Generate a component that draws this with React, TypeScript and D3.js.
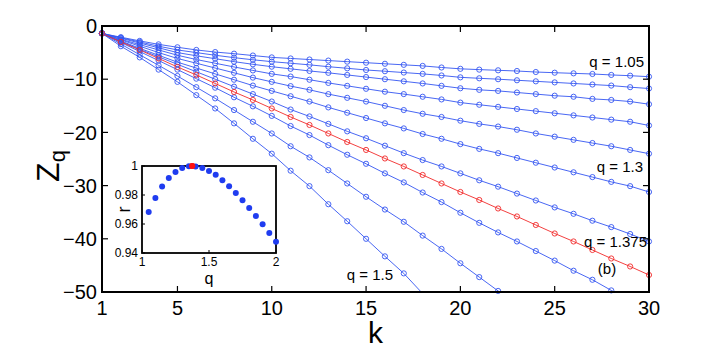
import * as d3 from 'd3'

// k = 1..30, one array of Zq per q (below -50 is clipped)
const Q_VALUES = [1.05, 1.1, 1.15, 1.2, 1.25, 1.3, 1.35, 1.375, 1.4, 1.45, 1.5]
const HIGHLIGHT_Q = 1.375

const Z_105 = [-1.4, -2.1, -2.8, -3.45, -4.0, -4.5, -4.9, -5.2, -5.55, -5.9, -6.1, -6.3, -6.5, -6.7, -6.9, -7.1, -7.3, -7.5, -7.8, -8.05, -8.2, -8.33, -8.46, -8.65, -8.78, -8.9, -9.02, -9.2, -9.34, -9.53]
const Z_110 = [-1.4, -2.2, -3.0, -3.8, -4.5, -5.0, -5.5, -5.95, -6.35, -6.7, -7.0, -7.3, -7.65, -7.95, -8.27, -8.5, -8.75, -9.0, -9.3, -9.65, -9.83, -10.0, -10.2, -10.4, -10.6, -10.8, -11.0, -11.2, -11.5, -11.75]
const Z_115 = [-1.4, -2.3, -3.2, -4.1, -5.0, -5.6, -6.15, -6.7, -7.2, -7.65, -8.05, -8.45, -8.8, -9.2, -9.6, -10.0, -10.4, -10.8, -11.25, -11.7, -12.0, -12.2, -12.5, -12.8, -13.1, -13.3, -13.7, -13.9, -14.2, -14.7]
const Z_120 = [-1.4, -2.5, -3.5, -4.5, -5.5, -6.3, -7.0, -7.7, -8.35, -9.0, -9.5, -10.1, -10.7, -11.25, -11.8, -12.35, -12.8, -13.3, -13.8, -14.4, -14.8, -15.2, -15.6, -16.0, -16.4, -16.8, -17.2, -17.6, -18.0, -18.7]
const Z_125 = [-1.4, -2.6, -3.8, -5.0, -6.1, -7.0, -7.9, -8.8, -9.7, -10.5, -11.3, -12.0, -12.8, -13.5, -14.2, -15.0, -15.8, -16.5, -17.1, -17.8, -18.4, -18.9, -19.5, -20.2, -20.8, -21.4, -22.0, -22.6, -23.3, -24.0]
const Z_130 = [-1.4, -2.8, -4.2, -5.5, -6.8, -7.9, -9.0, -10.1, -11.2, -12.2, -13.2, -14.2, -15.3, -16.3, -17.3, -18.3, -19.25, -20.3, -21.2, -22.2, -23.1, -23.9, -24.8, -25.7, -26.6, -27.5, -28.4, -29.3, -30.1, -31.2]
const Z_135 = [-1.4, -2.9, -4.4, -5.8, -7.2, -8.6, -10.0, -11.4, -12.8, -14.2, -15.7, -17.0, -18.4, -19.8, -21.1, -22.5, -23.9, -25.2, -26.4, -27.7, -29.0, -30.2, -31.5, -32.8, -34.1, -35.3, -36.6, -37.8, -39.1, -40.5]
const Z_1375 = [-1.4, -3.0, -4.5, -6.1, -7.7, -9.2, -10.8, -12.4, -13.9, -15.5, -17.1, -18.6, -20.2, -21.8, -23.3, -24.9, -26.4, -28.0, -29.6, -31.2, -32.7, -34.3, -35.8, -37.4, -39.0, -40.5, -42.1, -43.7, -45.2, -46.8]
const Z_140 = [-1.4, -3.1, -4.8, -6.5, -8.2, -9.9, -11.6, -13.4, -15.1, -16.9, -18.8, -20.5, -22.4, -24.2, -25.9, -27.7, -29.4, -31.3, -33.1, -35.1, -37.0, -38.8, -40.5, -42.3, -44.1, -46.0, -47.7, -49.7, -51.6, -53.5]
const Z_145 = [-1.4, -3.4, -5.4, -7.4, -9.4, -11.5, -13.6, -15.8, -18.0, -20.2, -22.6, -24.7, -27.1, -29.6, -32.1, -34.5, -36.8, -39.4, -41.9, -44.6, -47.2, -49.8, -52.4]
const Z_150 = [-1.4, -3.8, -5.9, -8.2, -10.5, -13.0, -15.5, -18.3, -21.2, -24.0, -27.2, -30.1, -33.5, -36.7, -40.0, -43.3, -46.5, -50.3]

const SERIES = [Z_105, Z_110, Z_115, Z_120, Z_125, Z_130, Z_135, Z_1375, Z_140, Z_145, Z_150]

const X_TICKS = [1, 5, 10, 15, 20, 25, 30]
const Y_TICKS = [0, -10, -20, -30, -40, -50]

// inset: correlation r against q
const INSET_Q = [1.05, 1.1, 1.15, 1.2, 1.25, 1.3, 1.35, 1.375, 1.4, 1.45, 1.5, 1.55, 1.6, 1.65, 1.7, 1.75, 1.8, 1.85, 1.9, 1.95, 2.0]
const INSET_R = [0.9683, 0.9779, 0.9858, 0.9917, 0.9959, 0.9986, 0.9998, 1.0, 0.9996, 0.9986, 0.9966, 0.994, 0.9901, 0.986, 0.9814, 0.9763, 0.971, 0.9655, 0.9598, 0.9538, 0.9477]
const INSET_X_TICKS = [1, 1.5, 2]
const INSET_Y_TICKS = [0.94, 0.96, 0.98, 1]

const BLUE = '#3456f2'
const RED = '#f22a2a'
const FONT = '"Liberation Sans", Arial, Helvetica, sans-serif'

const fmt = (v: number) => (v < 0 ? '\u2212' + Math.abs(v) : String(v))

export default function App() {
  const width = 716
  const height = 354
  const x = d3.scaleLinear().domain([1, 30]).range([102, 649])
  const y = d3.scaleLinear().domain([-50, 0]).range([292, 26])
  const [x0, x1] = x.range()
  const [y1, y0] = y.range()

  const xi = d3.scaleLinear().domain([1, 2]).range([142, 276])
  const yi = d3.scaleLinear().domain([0.94, 1]).range([253, 166])

  const line = d3.line<number>()
    .x((_, i) => x(i + 1))
    .y(d => y(d))

  // red curve goes last so it stays on top
  const order = Q_VALUES.map((q, i) => i).sort((a, b) =>
    (Q_VALUES[a] === HIGHLIGHT_Q ? 1 : 0) - (Q_VALUES[b] === HIGHLIGHT_Q ? 1 : 0))

  return (
    <svg width={width} height={height} style={{ position: 'absolute', left: 0, top: 0, background: '#fff' }}
      fontFamily={FONT}>
      <defs>
        <clipPath id="plot-clip">
          <rect x={x0} y={y0} width={x1 - x0} height={y1 - y0} />
        </clipPath>
      </defs>

      {/* series lines */}
      <g clipPath="url(#plot-clip)">
        {order.map(i => (
          <path key={i} d={line(SERIES[i]) || ''} fill="none"
            stroke={Q_VALUES[i] === HIGHLIGHT_Q ? RED : BLUE} strokeWidth={0.9} />
        ))}
      </g>
      {/* open circle markers */}
      {order.map(i => (
        <g key={'m' + i} fill="none" stroke={Q_VALUES[i] === HIGHLIGHT_Q ? RED : BLUE} strokeWidth={0.9}>
          {SERIES[i].map((v, j) => v >= -50 ? (
            <circle key={j} cx={x(j + 1)} cy={y(v)} r={2.6} />
          ) : null)}
        </g>
      ))}

      {/* axes box + ticks */}
      <rect x={x0} y={y0} width={x1 - x0} height={y1 - y0} fill="none" stroke="#000" strokeWidth={2} />
      {X_TICKS.map(t => (
        <g key={'xt' + t}>
          <line x1={x(t)} x2={x(t)} y1={y1} y2={y1 - 6} stroke="#000" strokeWidth={1.2} />
          <line x1={x(t)} x2={x(t)} y1={y0} y2={y0 + 6} stroke="#000" strokeWidth={1.2} />
          <text x={x(t)} y={315} textAnchor="middle" fontSize={20}>{t}</text>
        </g>
      ))}
      {Y_TICKS.map(t => (
        <g key={'yt' + t}>
          <line x1={x0} x2={x0 + 6} y1={y(t)} y2={y(t)} stroke="#000" strokeWidth={1.2} />
          <line x1={x1} x2={x1 - 6} y1={y(t)} y2={y(t)} stroke="#000" strokeWidth={1.2} />
          <text x={97} y={y(t)} dy="0.36em" textAnchor="end" fontSize={20}>{fmt(t)}</text>
        </g>
      ))}
      <text x={(x0 + x1) / 2} y={343} textAnchor="middle" fontSize={30}>k</text>
      <text transform="translate(59,166) rotate(-90)" textAnchor="middle" fontSize={32}>
        Z<tspan fontSize={22} dy={6}>q</tspan>
      </text>

      {/* curve labels */}
      <text x={644} y={67} textAnchor="end" fontSize={15}>q = 1.05</text>
      <text x={643} y={172} textAnchor="end" fontSize={15}>q = 1.3</text>
      <text x={647} y={247} textAnchor="end" fontSize={15}>q = 1.375</text>
      <text x={607} y={274} textAnchor="middle" fontSize={15}>(b)</text>
      <text x={393} y={280} textAnchor="end" fontSize={15}>q = 1.5</text>

      {/* inset */}
      <g>
        <rect x={xi(1)} y={yi(1)} width={xi(2) - xi(1)} height={yi(0.94) - yi(1)} fill="#fff" stroke="#000" strokeWidth={1.8} />
        {INSET_X_TICKS.map(t => (
          <g key={'ixt' + t}>
            <line x1={xi(t)} x2={xi(t)} y1={yi(0.94)} y2={yi(0.94) - 3} stroke="#000" />
            <text x={xi(t)} y={266} textAnchor="middle" fontSize={12}>{t}</text>
          </g>
        ))}
        {INSET_Y_TICKS.map(t => (
          <g key={'iyt' + t}>
            <line x1={xi(1)} x2={xi(1) + 3} y1={yi(t)} y2={yi(t)} stroke="#000" />
            <text x={138} y={yi(t)} dy="0.36em" textAnchor="end" fontSize={12}>{t}</text>
          </g>
        ))}
        <text x={xi(1.5)} y={284} textAnchor="middle" fontSize={16}>q</text>
        <text transform={`translate(130,${(yi(1) + yi(0.94)) / 2}) rotate(-90)`} textAnchor="middle" fontSize={18}>r</text>
        {INSET_Q.map((q, i) => (
          <circle key={'d' + q} cx={xi(q)} cy={yi(INSET_R[i])} r={3}
            fill={q === HIGHLIGHT_Q ? '#ff1010' : '#1f3cf0'} />
        ))}
        <circle cx={xi(HIGHLIGHT_Q)} cy={yi(INSET_R[INSET_Q.indexOf(HIGHLIGHT_Q)])} r={3} fill="#ff1010" />
      </g>
    </svg>
  )
}
